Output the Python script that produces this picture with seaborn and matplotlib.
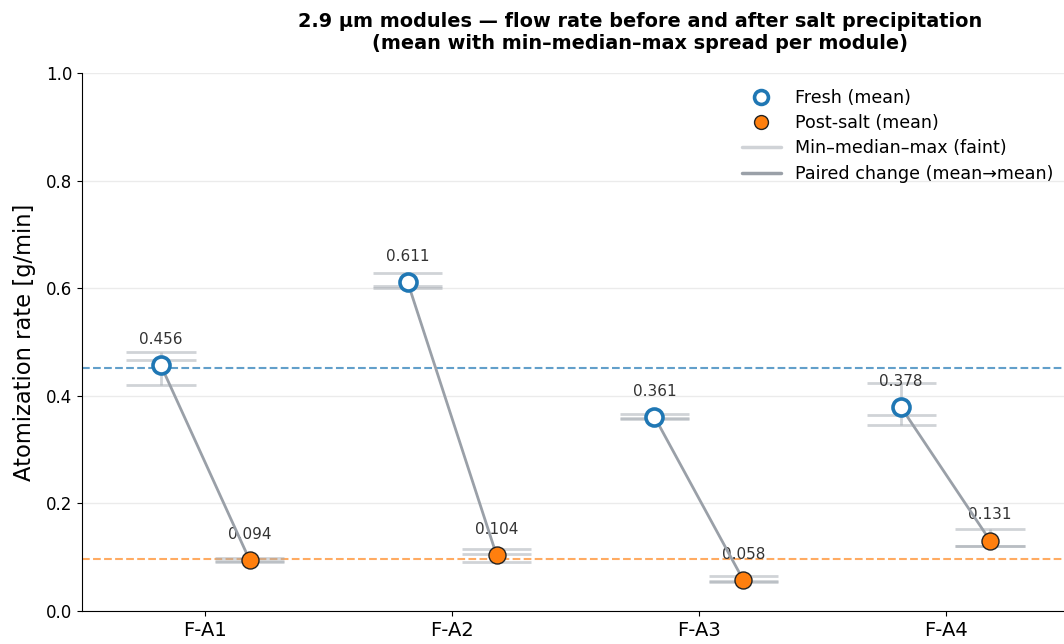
import numpy as np
import pandas as pd
import matplotlib
matplotlib.use("Agg")
import matplotlib.pyplot as plt
from matplotlib.lines import Line2D
import seaborn as sns

# Atomization rate per module: three runs each, fresh and after salt precipitation [g/min]
modules = ["F-A1", "F-A2", "F-A3", "F-A4"]
fresh_runs = [
    [0.421, 0.467, 0.481],
    [0.600, 0.604, 0.629],
    [0.357, 0.359, 0.367],
    [0.346, 0.365, 0.424],
]
post_runs = [
    [0.091, 0.093, 0.098],
    [0.091, 0.106, 0.115],
    [0.053, 0.055, 0.065],
    [0.120, 0.121, 0.152],
]

sns.set_style("ticks")
plt.rcParams["font.family"] = ["DejaVu Sans"]
plt.rcParams.update({"text.color": "black", "axes.labelcolor": "black",
                     "xtick.color": "black", "ytick.color": "black",
                     "axes.edgecolor": "black"})

FRESH_C = "#1f77b4"
POST_C = "#ff7f0e"
SPREAD_C = "#a3a9b0"
PAIR_C = "#9aa0a8"
OFF = 0.18
CAP = 0.14

fig = plt.figure(figsize=(10.64, 6.44), dpi=100)
ax = fig.add_axes([82 / 1064, 33 / 644, (1069 - 82) / 1064, (611 - 73) / 644])

rows = []
for i, m in enumerate(modules):
    rows.append({"module": m, "state": "Fresh", "x": i - OFF, "rate": np.mean(fresh_runs[i])})
    rows.append({"module": m, "state": "Post-salt", "x": i + OFF, "rate": np.mean(post_runs[i])})
df = pd.DataFrame(rows)
fresh = df[df.state == "Fresh"].reset_index(drop=True)
post = df[df.state == "Post-salt"].reset_index(drop=True)

# faint min / median / max bars with a vertical min-max stem
for i in range(len(modules)):
    for x0, runs in ((i - OFF, fresh_runs[i]), (i + OFF, post_runs[i])):
        lo, md, hi = np.min(runs), np.median(runs), np.max(runs)
        ax.plot([x0, x0], [lo, hi], color=SPREAD_C, alpha=0.5, lw=2, zorder=1,
                solid_capstyle="butt")
        for v in (lo, md, hi):
            ax.plot([x0 - CAP, x0 + CAP], [v, v], color=SPREAD_C, alpha=0.5, lw=2,
                    zorder=1, solid_capstyle="butt")

# grand means
ax.axhline(fresh.rate.mean(), color=FRESH_C, alpha=0.7, lw=1.5, ls="--", zorder=0.5)
ax.axhline(post.rate.mean(), color=POST_C, alpha=0.65, lw=1.5, ls="--", zorder=0.5)

# value labels
for d in (fresh, post):
    for _, r in d.iterrows():
        ax.annotate(f"{r.rate:.3f}", (r.x, r.rate), xytext=(0, 13),
                    textcoords="offset points", ha="center", va="bottom",
                    fontsize=11, color="#333333", zorder=2)

# paired change lines
for i in range(len(modules)):
    pair = pd.DataFrame({"x": [fresh.x[i], post.x[i]], "rate": [fresh.rate[i], post.rate[i]]})
    sns.lineplot(data=pair, x="x", y="rate", color=PAIR_C, lw=2, ax=ax, zorder=3,
                 sort=False, estimator=None)

sns.scatterplot(data=fresh, x="x", y="rate", ax=ax, s=150, marker="o",
                facecolor="white", edgecolor=FRESH_C, linewidth=2.6, zorder=4)
sns.scatterplot(data=post, x="x", y="rate", ax=ax, s=150, marker="o",
                color=POST_C, edgecolor="#222222", linewidth=1.0, zorder=4)

ax.set_xlim(-0.5, 3.5)
ax.set_ylim(0, 1.0)
ax.set_xticks(range(len(modules)))
ax.set_xticklabels(modules, fontsize=14)
ax.set_yticks(np.arange(0, 1.01, 0.2))
ax.tick_params(axis="y", labelsize=12)
ax.set_xlabel("")
ax.set_ylabel("Atomization rate [g/min]", fontsize=16.3, labelpad=7)
ax.yaxis.grid(True, color="#ebebeb", lw=1)
ax.xaxis.grid(False)
sns.despine(ax=ax)

handles = [
    Line2D([], [], ls="none", marker="o", ms=10, mfc="white", mec=FRESH_C, mew=2.6),
    Line2D([], [], ls="none", marker="o", ms=10, mfc=POST_C, mec="#222222", mew=1.0),
    Line2D([], [], color=SPREAD_C, alpha=0.5, lw=2.5),
    Line2D([], [], color=PAIR_C, lw=2.5),
]
labels = ["Fresh (mean)", "Post-salt (mean)", "Min\u2013median\u2013max (faint)",
          "Paired change (mean\u2192mean)"]
ax.legend(handles, labels, loc="upper right", frameon=False, fontsize=12.6,
          handlelength=2.25, labelspacing=0.42)

ax.set_title("2.9 \u00b5m modules \u2014 flow rate before and after salt precipitation\n"
             "(mean with min\u2013median\u2013max spread per module)",
             fontsize=13.9, fontweight="bold", x=0.565, pad=17)

fig.savefig("out.png", dpi=100)
